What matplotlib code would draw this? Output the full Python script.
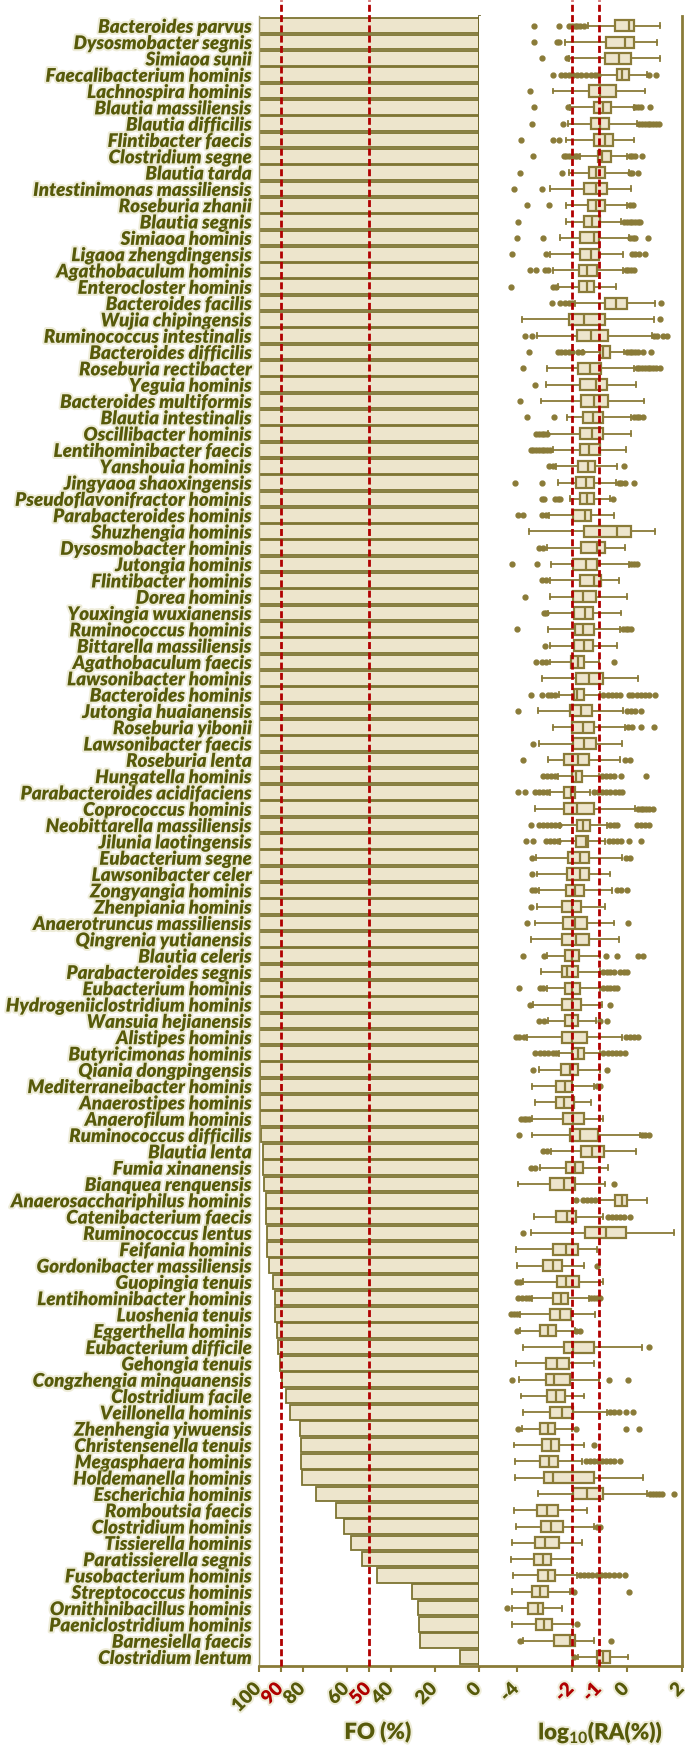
import numpy as np
import matplotlib
matplotlib.use("Agg")
import matplotlib.pyplot as plt
import matplotlib.patheffects as pe
import matplotlib.transforms as mtransforms

# ---------------------------------------------------------------
# Data
# ---------------------------------------------------------------
species = [
    "Bacteroides parvus", "Dysosmobacter segnis", "Simiaoa sunii", "Faecalibacterium hominis",
    "Lachnospira hominis", "Blautia massiliensis", "Blautia difficilis", "Flintibacter faecis",
    "Clostridium segne", "Blautia tarda", "Intestinimonas massiliensis", "Roseburia zhanii",
    "Blautia segnis", "Simiaoa hominis", "Ligaoa zhengdingensis", "Agathobaculum hominis",
    "Enterocloster hominis", "Bacteroides facilis", "Wujia chipingensis", "Ruminococcus intestinalis",
    "Bacteroides difficilis", "Roseburia rectibacter", "Yeguia hominis", "Bacteroides multiformis",
    "Blautia intestinalis", "Oscillibacter hominis", "Lentihominibacter faecis", "Yanshouia hominis",
    "Jingyaoa shaoxingensis", "Pseudoflavonifractor hominis", "Parabacteroides hominis", "Shuzhengia hominis",
    "Dysosmobacter hominis", "Jutongia hominis", "Flintibacter hominis", "Dorea hominis",
    "Youxingia wuxianensis", "Ruminococcus hominis", "Bittarella massiliensis", "Agathobaculum faecis",
    "Lawsonibacter hominis", "Bacteroides hominis", "Jutongia huaianensis", "Roseburia yibonii",
    "Lawsonibacter faecis", "Roseburia lenta", "Hungatella hominis", "Parabacteroides acidifaciens",
    "Coprococcus hominis", "Neobittarella massiliensis", "Jilunia laotingensis", "Eubacterium segne",
    "Lawsonibacter celer", "Zongyangia hominis", "Zhenpiania hominis", "Anaerotruncus massiliensis",
    "Qingrenia yutianensis", "Blautia celeris", "Parabacteroides segnis", "Eubacterium hominis",
    "Hydrogeniiclostridium hominis", "Wansuia hejianensis", "Alistipes hominis", "Butyricimonas hominis",
    "Qiania dongpingensis", "Mediterraneibacter hominis", "Anaerostipes hominis", "Anaerofilum hominis",
    "Ruminococcus difficilis", "Blautia lenta", "Fumia xinanensis", "Bianquea renquensis",
    "Anaerosacchariphilus hominis", "Catenibacterium faecis", "Ruminococcus lentus", "Feifania hominis",
    "Gordonibacter massiliensis", "Guopingia tenuis", "Lentihominibacter hominis", "Luoshenia tenuis",
    "Eggerthella hominis", "Eubacterium difficile", "Gehongia tenuis", "Congzhengia minquanensis",
    "Clostridium facile", "Veillonella hominis", "Zhenhengia yiwuensis", "Christensenella tenuis",
    "Megasphaera hominis", "Holdemanella hominis", "Escherichia hominis", "Romboutsia faecis",
    "Clostridium hominis", "Tissierella hominis", "Paratissierella segnis", "Fusobacterium hominis",
    "Streptococcus hominis", "Ornithinibacillus hominis", "Paeniclostridium hominis", "Barnesiella faecis",
    "Clostridium lentum",
]

# frequency of occurrence (%)
fo = [100] * 63 + [
    99.9, 99.6, 99.6, 99.4, 99.4, 99.0, 98.3, 98.0, 97.7, 97.0, 96.7, 96.4, 96.2, 95.6,
    93.6, 92.9, 92.6, 91.7, 91.5, 90.3, 89.4, 87.7, 85.9, 81.5, 81.0, 80.9, 80.6, 74.0,
    65.1, 61.2, 58.4, 53.0, 46.4, 30.5, 27.9, 27.5, 26.7, 8.8,
]

# log10 relative abundance box statistics
ra_whislo = [
    -1.40, -2.24, -2.12, -0.97, -2.67, -2.06, -2.13, -2.21, -1.70, -2.11,
    -2.79, -2.21, -2.21, -2.42, -2.79, -2.67, -2.52, -1.88, -3.81, -3.25,
    -1.58, -2.90, -2.93, -3.13, -2.17, -2.85, -2.70, -2.58, -2.50, -2.06,
    -2.82, -3.54, -2.91, -2.75, -2.79, -2.81, -2.85, -2.87, -2.79, -2.79,
    -3.09, -2.48, -3.24, -2.70, -3.19, -2.88, -2.50, -2.80, -3.32, -2.42,
    -2.42, -3.30, -3.27, -3.20, -3.27, -3.33, -3.49, -2.91, -3.13, -2.91,
    -3.40, -2.85, -3.64, -2.48, -3.20, -3.45, -3.33, -3.45, -3.44, -2.75,
    -3.15, -3.94, -1.03, -3.38, -3.49, -4.01, -3.98, -3.76, -3.45, -3.88,
    -3.88, -3.78, -4.01, -3.92, -3.84, -3.76, -3.81, -4.10, -4.06, -4.08,
    -3.22, -4.10, -4.01, -4.18, -4.20, -4.12, -4.18, -4.16, -4.16, -3.76,
    -1.76,
]
ra_q1 = [
    -0.44, -0.76, -0.80, -0.36, -1.37, -1.18, -1.32, -1.20, -1.05, -1.39,
    -1.56, -1.42, -1.54, -1.71, -1.71, -1.75, -1.75, -0.78, -2.10, -1.81,
    -0.97, -1.76, -1.72, -1.67, -1.58, -1.70, -1.71, -1.76, -1.84, -1.72,
    -1.94, -1.54, -1.66, -1.95, -1.70, -1.94, -1.93, -1.90, -1.93, -2.02,
    -1.85, -1.93, -2.08, -2.00, -1.94, -2.28, -1.98, -2.30, -2.28, -1.82,
    -1.84, -2.15, -2.18, -2.20, -2.34, -2.33, -2.34, -2.25, -2.35, -2.24,
    -2.35, -2.23, -2.35, -2.00, -2.39, -2.57, -2.59, -2.33, -2.08, -1.66,
    -2.22, -2.78, -0.44, -2.56, -1.52, -2.69, -3.03, -2.55, -2.69, -2.79,
    -3.15, -2.30, -2.93, -2.92, -2.91, -2.78, -3.15, -3.10, -3.15, -3.01,
    -1.94, -3.25, -3.13, -3.33, -3.39, -3.21, -3.44, -3.59, -3.31, -2.64,
    -1.09,
]
ra_med = [
    0.08, -0.08, -0.30, -0.18, -0.99, -0.88, -0.97, -0.81, -0.90, -1.12,
    -1.14, -1.13, -1.25, -1.21, -1.30, -1.44, -1.45, -0.40, -1.55, -1.31,
    -0.85, -1.33, -1.13, -1.21, -1.22, -1.26, -1.37, -1.42, -1.49, -1.45,
    -1.52, -0.35, -1.07, -1.49, -1.21, -1.60, -1.52, -1.60, -1.56, -1.79,
    -1.36, -1.81, -1.67, -1.60, -1.55, -1.79, -1.85, -2.02, -1.82, -1.58,
    -1.50, -1.72, -1.72, -1.90, -2.00, -1.88, -1.85, -1.98, -2.18, -2.00,
    -2.00, -2.00, -2.00, -1.79, -2.06, -2.25, -2.30, -1.94, -1.70, -1.26,
    -1.88, -2.28, -0.18, -2.16, -0.75, -2.22, -2.70, -2.21, -2.39, -2.42,
    -2.88, -1.94, -2.55, -2.64, -2.57, -2.35, -2.88, -2.75, -2.84, -2.67,
    -1.45, -2.91, -2.74, -2.96, -3.05, -2.88, -3.16, -3.24, -3.02, -2.08,
    -0.87,
]
ra_q3 = [
    0.24, 0.27, 0.16, 0.08, -0.40, -0.59, -0.64, -0.52, -0.59, -0.81,
    -0.73, -0.79, -0.99, -1.02, -1.02, -1.08, -1.19, 0.00, -0.81, -0.70,
    -0.63, -0.93, -0.73, -0.68, -0.85, -0.86, -0.99, -1.15, -1.21, -1.21,
    -1.31, 0.15, -0.79, -1.09, -0.93, -1.12, -1.24, -1.19, -1.24, -1.54,
    -0.88, -1.54, -1.26, -1.21, -1.12, -1.38, -1.64, -1.90, -1.21, -1.33,
    -1.41, -1.36, -1.37, -1.54, -1.66, -1.44, -1.39, -1.75, -1.76, -1.72,
    -1.66, -1.76, -1.45, -1.55, -1.79, -1.98, -1.92, -1.54, -1.04, -0.82,
    -1.59, -1.88, 0.01, -1.84, -0.04, -1.76, -2.34, -1.73, -2.15, -2.04,
    -2.58, -1.18, -2.12, -2.07, -2.25, -1.94, -2.62, -2.45, -2.52, -1.18,
    -0.85, -2.52, -2.33, -2.48, -2.75, -2.61, -2.87, -3.04, -2.73, -1.90,
    -0.61,
]
ra_whishi = [
    1.19, 1.10, 1.19, 0.73, 0.65, 0.24, 0.36, 0.27, 0.00, 0.06,
    0.15, 0.00, -0.20, 0.06, -0.13, -0.15, -0.39, 1.03, 0.98, 0.91,
    -0.10, 0.27, 0.34, 0.63, 0.16, 0.16, -0.02, -0.35, -0.39, -0.60,
    -0.48, 1.01, -0.06, 0.06, -0.27, 0.02, -0.22, -0.24, -0.35, -1.03,
    0.40, -0.97, -0.15, -0.06, -0.18, -0.24, -1.03, -1.33, 0.30, -0.73,
    -0.79, -0.18, -0.60, -0.55, -0.81, -0.46, -0.30, -0.97, -0.97, -0.97,
    -0.91, -1.12, -0.18, -0.97, -0.99, -1.19, -1.30, -0.87, 0.48, 0.33,
    -0.68, -0.79, 0.73, -0.85, 1.72, -1.09, -1.55, -0.85, -1.39, -1.15,
    -1.88, 0.55, -1.21, -1.03, -1.55, -0.73, -2.00, -1.55, -1.64, 0.58,
    0.73, -1.45, -1.19, -1.62, -2.00, -1.82, -2.06, -2.35, -1.94, -1.18,
    0.04,
]
ra_fliers = [
    [-3.38, -2.45, -2.12, -2.0, -1.9, -1.8, -1.7, -1.55],
    [-3.38, -2.55, -2.45],
    [-3.07, -2.18],
    [-2.70, -2.40, -2.25, -2.1, -1.95, -1.8, -1.65, -1.5, -1.3, -1.15, -1.05, 0.79, 1.05],
    [-3.52],
    [-3.37, -2.13, 0.3, 0.4, 0.5, 0.85],
    [-3.45, -2.32, 0.45, 0.55, 0.65, 0.75, 0.85, 0.95, 1.05, 1.15],
    [-3.85, -2.67, -2.45],
    [-3.42, -2.3, -2.2, -2.1, -2.0, -1.9, -1.8, 0.1, 0.2, 0.3, 0.56],
    [-3.87, -2.35, 0.12, 0.18, 0.41],
    [-4.1, -3.1],
    [-3.64, -2.84, 0.1, 0.22],
    [-3.94, -0.1, 0.0, 0.1, 0.2, 0.3, 0.4, 0.48],
    [-3.98, -3.03, 0.12, 0.22, 0.3, 0.75],
    [-4.16, -2.93, 0.18, 0.3, 0.45, 0.67],
    [-3.52, -3.3, -2.97, -2.85, -0.05, 0.05, 0.15, 0.24],
    [-4.22, -2.67, -2.58],
    [-2.72, -2.42, -2.25, -2.1, -2.0, 1.25],
    [1.19],
    [-3.7, -3.45, 1.0, 1.1, 1.3, 1.45],
    [-3.54, -2.52, -2.4, -2.25, -2.1, -2.0, -1.76, -1.64, 0.0, 0.1, 0.2, 0.3, 0.4, 0.6, 0.88],
    [-3.78, 0.35, 0.45, 0.55, 0.65, 0.75, 0.85, 0.95, 1.05, 1.21],
    [-3.32],
    [-3.87],
    [-3.64, -2.64, 0.25, 0.35, 0.45, 0.6],
    [-3.3, -3.2, -3.1, -3.0, -2.9],
    [-3.5, -3.4, -3.3, -3.2, -3.1, -3.0, -2.9, -2.8],
    [-2.84, -2.7, -0.12],
    [-4.06, -3.07, -0.3, -0.2, -0.06, 0.24],
    [-3.1, -3.0, -2.6, -2.5, -2.42, -0.5],
    [-3.94, -3.76, -3.09, -2.95],
    [],
    [-3.18, -3.05],
    [-4.16, -3.28, 0.15, 0.25, 0.36],
    [-3.09, -2.95],
    [-3.7],
    [-3.0, -2.92],
    [-4.0, -0.15, -0.05, 0.05, 0.15],
    [-2.97],
    [-3.3, -3.09, -2.95, -0.48],
    [],
    [-3.5, -3.09, -2.88, -2.75, -2.6, -0.85, -0.7, -0.55, -0.4, -0.25, 0.06, 0.2, 0.35, 0.5, 0.65, 0.8, 1.03],
    [-3.94, 0.0, 0.15, 0.3, 0.52],
    [0.05, 0.18, 0.5, 1.0],
    [-3.42],
    [-3.78, -0.06, 0.12],
    [-3.05, -2.9, -2.75, -2.6, -0.9, -0.75, -0.6, -0.48, -0.23, 0.68],
    [-3.96, -3.7, -3.33, -3.2, -3.05, -2.9, -1.2, -1.05, -0.9, -0.75, -0.6, -0.45, -0.3, -0.18],
    [0.4, 0.5, 0.6, 0.7, 0.8, 0.93],
    [-3.49, -3.18, -3.05, -2.9, -2.75, -2.6, -2.48, -0.6, -0.48, -0.36, 0.36, 0.5, 0.65, 0.79],
    [-3.67, -3.42, -2.93, -2.8, -2.65, -2.5, -0.65, -0.5, -0.36, -0.22, 0.06, 0.52],
    [-3.45, -0.05, 0.12],
    [-3.45],
    [-3.45, -3.33, -0.36, -0.2, 0.0],
    [-3.49],
    [-3.64, 0.04],
    [],
    [-3.78, -3.0, -0.76, -0.36, 0.42, 0.6],
    [-0.85, -0.72, -0.6, -0.48, -0.24, -0.1, 0.0],
    [-3.92, -3.15, -3.03, -0.85, -0.72, -0.6, -0.48, -0.36],
    [-3.52, -0.61],
    [-3.18, -3.0, -0.97, -0.73],
    [-4.04, -3.9, -3.75, -0.05, 0.1, 0.25, 0.42],
    [-3.32, -3.15, -3.0, -2.85, -2.7, -2.58, -0.85, -0.7, -0.55, -0.4, -0.25, -0.06],
    [-3.4, -0.72],
    [-1.09, -0.97],
    [],
    [-3.85, -3.75, -3.65, -3.55],
    [-3.92, 0.55, 0.65, 0.79],
    [-3.03, -2.9],
    [-3.49, -3.35],
    [-0.46],
    [-1.85, -1.58, -1.45, -1.3, -1.15],
    [-0.7, -0.55, -0.4, -0.25, -0.1, 0.12],
    [-3.79],
    [],
    [-1.07],
    [-3.98, -3.88],
    [-3.94, -3.8, -3.65, -3.55, -1.3, -1.2, -1.1, -0.99],
    [-4.2, -4.1, -4.0],
    [-3.98, -1.84, -1.7],
    [0.8],
    [],
    [-4.18, -0.64, 0.04],
    [],
    [-0.6, -0.48, -0.28, -0.04, 0.22],
    [-3.96, -1.84, -0.02, 0.44],
    [-1.21],
    [-1.5, -1.35, -1.2, -1.05, -0.9, -0.75, -0.6, -0.48, -0.24],
    [],
    [0.85, 0.95, 1.05, 1.15, 1.27, 1.7],
    [],
    [-1.1, -0.99],
    [],
    [],
    [-1.7, -1.55, -1.4, -1.25, -1.1, -0.95, -0.8, -0.65, -0.48, -0.28, -0.08],
    [-1.92, 0.07],
    [-4.36],
    [-1.82],
    [-3.88, -0.58],
    [-1.92],
]

fo_ticks = [100, 90, 80, 60, 50, 40, 20, 0]
fo_cutoffs = [90, 50]
ra_ticks = [-4, -2, -1, 0, 2]
ra_cutoffs = [-2, -1]

# ---------------------------------------------------------------
# Style
# ---------------------------------------------------------------
plt.rcParams["font.family"] = ["Lato", "DejaVu Sans"]
plt.rcParams["mathtext.fontset"] = "custom"
plt.rcParams["mathtext.rm"] = "Lato:bold"
plt.rcParams["mathtext.bf"] = "Lato:bold"

olive = "#8a7b38"
dark_olive = "#6e6528"
text_col = "#575a0a"
fill = "#ede5cc"
red = "#b00000"
halo = [pe.withStroke(linewidth=3, foreground="#dedbb4", alpha=0.5)]

fig = plt.figure(figsize=(6.85, 17.47), dpi=100)
ax1 = fig.add_axes([259 / 685, 81 / 1747, 220 / 685, 1650 / 1747])
ax2 = fig.add_axes([479 / 685, 81 / 1747, 203 / 685, 1650 / 1747])

y = np.arange(len(species))
# nudge the rotated tick labels a little to the left
shift = mtransforms.ScaledTranslation(-5 / 72, 0, fig.dpi_scale_trans)

# ---------------------------------------------------------------
# Left panel: FO bars
# ---------------------------------------------------------------
ax1.barh(y, fo, height=0.9, color=fill, edgecolor="#7d7432", linewidth=1.3, zorder=2)
for v in fo_cutoffs:
    ax1.axvline(v, ymax=1.01, color=red, ls=(0, (2.5, 1.2)), lw=2, zorder=3, clip_on=False)
ax1.set_xlim(100, 0)
ax1.set_ylim(100.55, -0.6)

ax1.set_yticks(y)
ax1.set_yticklabels(species, fontsize=13.5, fontweight="heavy", fontstyle="italic",
                    color=text_col, path_effects=halo)
ax1.tick_params(axis="y", length=0, pad=5)

ax1.set_xticks(fo_ticks)
ax1.tick_params(axis="x", color=olive, width=1.5, length=4, pad=6)
ax1.set_xticklabels([str(t) for t in fo_ticks], rotation=45, ha="right", va="top",
                    rotation_mode="anchor", fontsize=13.5, fontweight="heavy",
                    color=text_col, path_effects=halo)
for lab, t in zip(ax1.get_xticklabels(), fo_ticks):
    lab.set_transform(lab.get_transform() + shift)
    if t in fo_cutoffs:
        lab.set_color(red)

ax1.spines["top"].set_visible(False)
ax1.spines["left"].set_color("#a39a6a")
ax1.spines["left"].set_linewidth(1.0)
ax1.spines["right"].set_color(dark_olive)
ax1.spines["right"].set_linewidth(2)
ax1.spines["bottom"].set_color(olive)
ax1.spines["bottom"].set_linewidth(2)

ax1.set_xlabel("FO (%)", fontsize=16, fontweight="heavy", color=text_col, path_effects=halo)
ax1.xaxis.label.set_va("center")
ax1.xaxis.set_label_coords(0.54, -0.040)

# ---------------------------------------------------------------
# Right panel: relative abundance boxplots
# ---------------------------------------------------------------
stats = []
for i in range(len(species)):
    stats.append(dict(label=species[i], whislo=ra_whislo[i], q1=ra_q1[i], med=ra_med[i],
                      q3=ra_q3[i], whishi=ra_whishi[i], fliers=ra_fliers[i]))

ax2.bxp(stats, positions=y, widths=0.68, orientation="horizontal", patch_artist=True,
        manage_ticks=False, capwidths=0.3,
        boxprops=dict(facecolor=fill, edgecolor=olive, linewidth=1.6),
        medianprops=dict(color=olive, linewidth=1.6),
        whiskerprops=dict(color=olive, linewidth=1.3),
        capprops=dict(color=olive, linewidth=1.3),
        flierprops=dict(marker="o", markerfacecolor=olive, markeredgecolor=olive,
                        markersize=3.5))
for v in ra_cutoffs:
    ax2.axvline(v, ymax=1.01, color=red, ls=(0, (2.5, 1.2)), lw=2, zorder=3, clip_on=False)

ax2.set_xlim(-5.37, 2)
ax2.set_ylim(100.55, -0.6)
ax2.set_yticks([])

ax2.set_xticks(ra_ticks)
ax2.tick_params(axis="x", color=olive, width=1.5, length=4, pad=6)
ax2.set_xticklabels([str(t) for t in ra_ticks], rotation=45, ha="right", va="top",
                    rotation_mode="anchor", fontsize=13.5, fontweight="heavy",
                    color=text_col, path_effects=halo)
for lab, t in zip(ax2.get_xticklabels(), ra_ticks):
    lab.set_transform(lab.get_transform() + shift)
    if t in ra_cutoffs:
        lab.set_color(red)

ax2.spines["top"].set_visible(False)
ax2.spines["left"].set_visible(False)
ax2.spines["right"].set_color(olive)
ax2.spines["right"].set_linewidth(2)
ax2.spines["bottom"].set_color(olive)
ax2.spines["bottom"].set_linewidth(2)

ax2.set_xlabel(r"log$_{\mathbf{10}}$(RA(%))", fontsize=16, fontweight="heavy",
               color=text_col, path_effects=halo)
ax2.xaxis.label.set_va("center")
ax2.xaxis.set_label_coords(0.6, -0.040)

fig.savefig("out.png", dpi=100)
